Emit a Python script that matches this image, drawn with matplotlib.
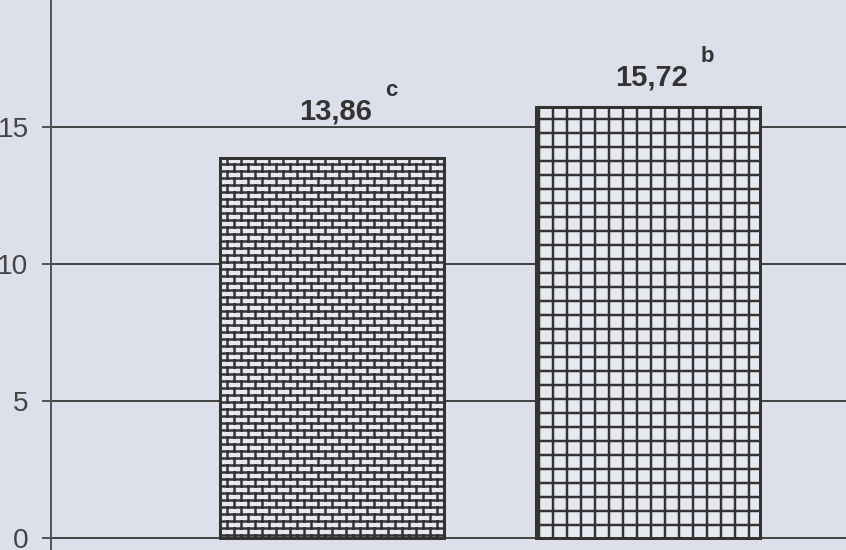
import warnings
import numpy as np
import matplotlib
matplotlib.use("Agg")
import matplotlib.pyplot as plt
from matplotlib import hatch as mhatch
from matplotlib.path import Path

warnings.filterwarnings("ignore")

# Data
positions = [0, 1]
values = [13.86, 15.72]
letters = ["c", "b"]
hatches = ["b", "+"]
yticks = [0, 5, 10, 15]


# brick hatch ('b'): rows of bricks, vertical joints shifted every other row
class BrickHatch(mhatch.HatchPatternBase):
    def __init__(self, hatch, density):
        n = hatch.count("b")
        self.rows = 2 * density * n
        self.cols = density * n
        self.num_vertices = (self.rows + (self.rows + 1) * self.cols) * 2 if n else 0

    def set_vertices_and_codes(self, vertices, codes):
        h = 1.0 / self.rows
        w = 1.0 / self.cols
        ys = np.arange(self.rows) * h + h / 2
        segs = []
        for y in ys:
            segs.append(((0.0, y), (1.0, y)))
        rows = list(enumerate(ys)) + [(self.rows - 1, ys[-1] - 1.0)]
        for i, y in rows:
            shift = w / 2 if i % 2 else 0.0
            for j in range(self.cols):
                x = j * w + w / 4 + shift
                segs.append(((x, y), (x, y + h)))
        pts = np.array(segs).reshape(-1, 2)
        vertices[:] = pts
        codes[0::2] = Path.MOVETO
        codes[1::2] = Path.LINETO


mhatch._hatch_types.append(BrickHatch)

plt.rcParams["font.family"] = ["Liberation Sans", "DejaVu Sans"]
plt.rcParams["hatch.linewidth"] = 2.1

bg = "#dde0ea"
fig = plt.figure(figsize=(846 / 84, 550 / 84), dpi=84, facecolor=bg)
ax = fig.add_axes([51 / 846, 0, 1 - 51 / 846, 1])
ax.set_facecolor(bg)

bars = ax.bar(positions, values, width=0.709, color="#e7e9f0",
              edgecolor="#333333", linewidth=2.6, zorder=3)
for bar, h in zip(bars, hatches):
    bar.set_hatch(h)

# value labels + significance letters
label_dy = [33.4, 18.9]
for x, v, let, dy in zip(positions, values, letters, label_dy):
    ax.annotate(f"{v:.2f}".replace(".", ","), xy=(x, v), xytext=(3, dy),
                textcoords="offset points", ha="center", va="baseline",
                fontsize=25, fontweight="bold", color="#333333")
    ax.annotate(let, xy=(x, v), xytext=(51, dy + 19.7),
                textcoords="offset points", ha="center", va="baseline",
                fontsize=19, fontweight="bold", color="#333333")

ax.set_xlim(-0.889, 1.627)
ax.set_ylim(-0.438, 19.635)
ax.set_yticks(yticks)
ax.set_xticks([])
ax.grid(axis="y", color="#444444", linewidth=1.7, zorder=1)
ax.set_axisbelow(True)

for s in ["top", "right", "bottom"]:
    ax.spines[s].set_visible(False)
ax.spines["left"].set_color("#555555")
ax.spines["left"].set_linewidth(1.7)
ax.tick_params(axis="y", length=7.7, width=1.7, color="#555555", pad=11.5,
               labelsize=24, labelcolor="#444444")

fig.savefig("out.png", dpi=84, facecolor=bg)
